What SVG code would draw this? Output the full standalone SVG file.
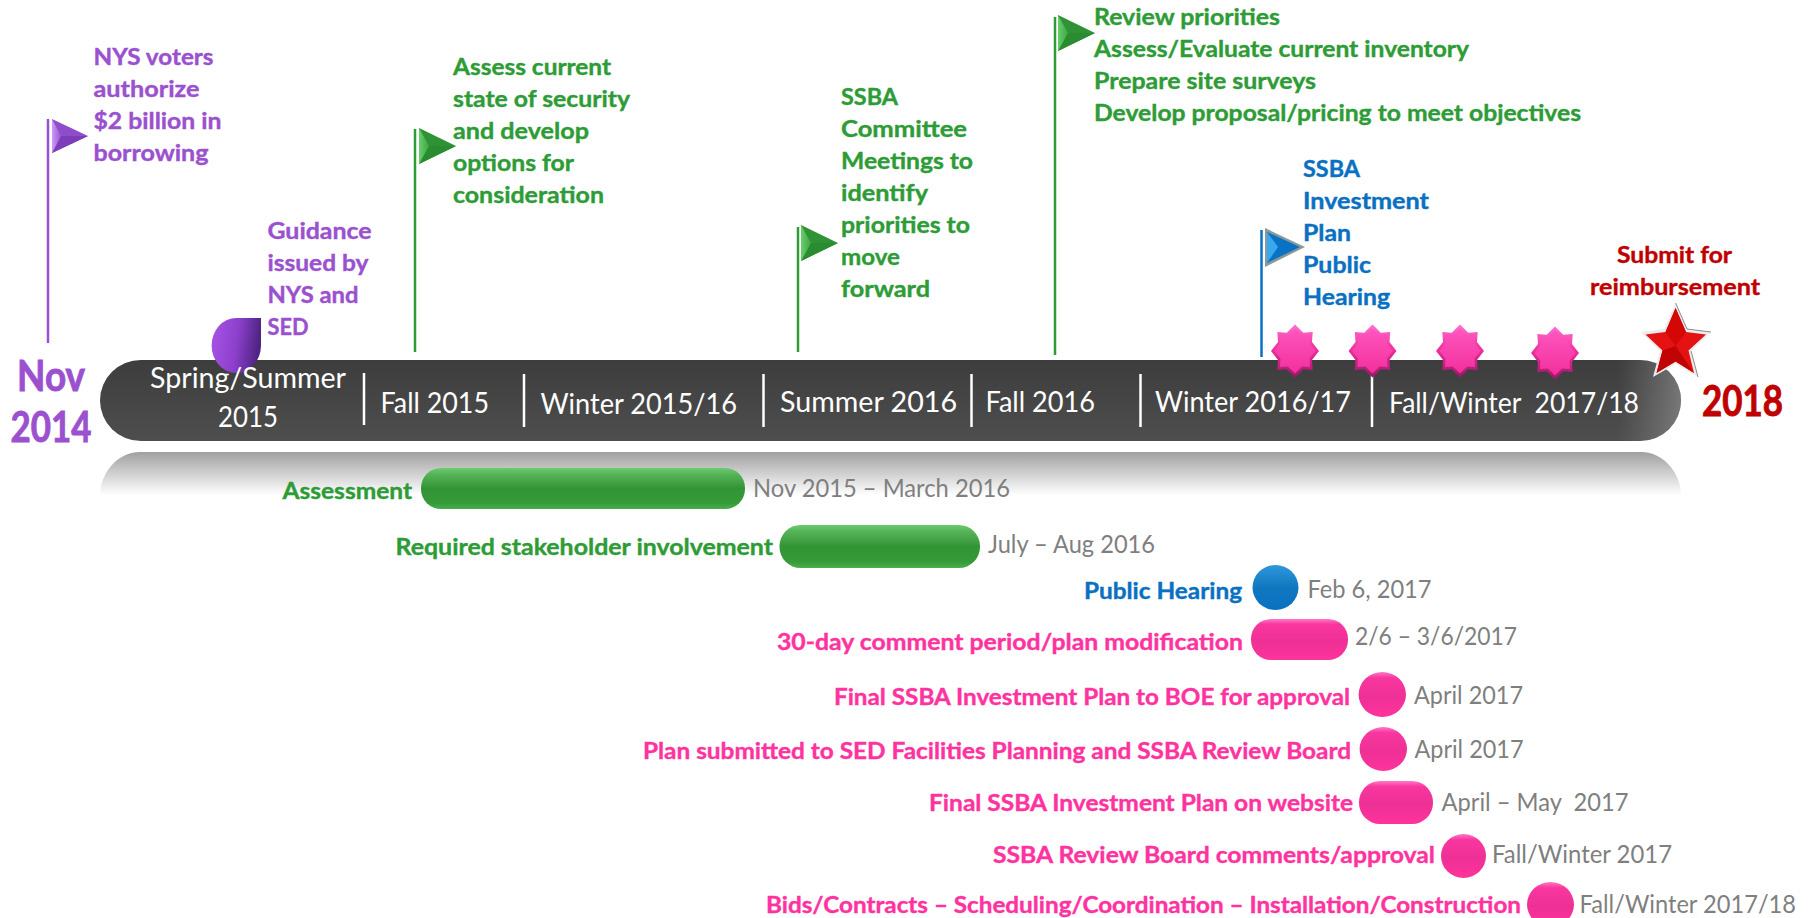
<svg xmlns="http://www.w3.org/2000/svg" width="1808" height="918" viewBox="0 0 1808 918">
<style>
text{font-family:Lato,"Open Sans","Liberation Sans",sans-serif}
.b{font-weight:700;font-size:23.500px;stroke-width:.4px}
.big{font-weight:700;font-size:42px;stroke-width:.9px}
.p{fill:#9b51cf;stroke:#9b51cf}.g{fill:#2e9c36;stroke:#2e9c36}.u{fill:#0a70c2;stroke:#0a70c2}.k{fill:#ff339f;stroke:#ff339f}.r{fill:#c00000;stroke:#c00000}
.per{fill:#fff;font-size:29px}
.d{fill:#7f7f7f;font-size:25px}
.sep{stroke:#fff;stroke-width:2.5}
.pole{stroke-width:2.5;fill:none}
</style>
<defs>
<linearGradient id="bar" x1="0" y1="0" x2="0" y2="1"><stop offset="0" stop-color="#3d3d3d"/><stop offset="1" stop-color="#4e4e4e"/></linearGradient>
<linearGradient id="edge" x1="0" y1="0" x2="1" y2="0"><stop offset="0.96" stop-color="#888" stop-opacity="0"/><stop offset="1" stop-color="#999" stop-opacity="0.6"/></linearGradient>
<linearGradient id="refl" x1="0" y1="0" x2="0" y2="1"><stop offset="0" stop-color="#a0a0a0"/><stop offset="1" stop-color="#fff"/></linearGradient>
<linearGradient id="gbar" x1="0" y1="0" x2="0" y2="1"><stop offset="0" stop-color="#6ccb6e"/><stop offset="0.15" stop-color="#55b458"/><stop offset="0.5" stop-color="#339435"/><stop offset="0.85" stop-color="#359a38"/><stop offset="1" stop-color="#4aae4e"/></linearGradient>
<linearGradient id="kbar" x1="0" y1="0" x2="0" y2="1"><stop offset="0" stop-color="#ff78c4"/><stop offset="0.13" stop-color="#f9369f"/><stop offset="0.55" stop-color="#ee3096"/><stop offset="1" stop-color="#ff339c"/></linearGradient>
<linearGradient id="ubar" x1="0" y1="0" x2="0" y2="1"><stop offset="0" stop-color="#2f97dc"/><stop offset="0.5" stop-color="#1078bf"/><stop offset="1" stop-color="#0a70c2"/></linearGradient>
<linearGradient id="tear" x1="0" y1="0" x2="1" y2="0.15"><stop offset="0" stop-color="#a854e6"/><stop offset="0.55" stop-color="#8d40cc"/><stop offset="1" stop-color="#4f2484"/></linearGradient>
<linearGradient id="star" x1="0" y1="0" x2="0" y2="1"><stop offset="0" stop-color="#ff70d0"/><stop offset="0.5" stop-color="#ee2c9c"/><stop offset="1" stop-color="#9c1668"/></linearGradient>
<linearGradient id="star2" x1="0" y1="0" x2="0" y2="1"><stop offset="0" stop-color="#ff55bd"/><stop offset="1" stop-color="#f2309c"/></linearGradient>
<linearGradient id="gf" x1="0" y1="0" x2="1" y2="0"><stop offset="0" stop-color="#67cf6a"/><stop offset="1" stop-color="#3ea544"/></linearGradient>
<linearGradient id="pf" x1="0" y1="0" x2="1" y2="0"><stop offset="0" stop-color="#cf9af5"/><stop offset="1" stop-color="#9a55d6"/></linearGradient>
<g id="burst">
<polygon fill="url(#star)" points="0,-26.500 8.300,-18.300 17.700,-19 17,-9 24,0 17,9 17.700,19 8.300,18.300 0,26.500 -8.300,18.300 -17.700,19 -17,9 -24,0 -17,-9 -17.700,-19 -8.300,-18.300"/>
<polygon fill="url(#star2)" points="0,-22.500 7,-15.500 15,-16 14.500,-7.500 20.500,0 14.500,7.500 15,16 7,15.500 0,22.500 -7,15.500 -15,16 -14.500,7.500 -20.500,0 -14.500,-7.500 -15,-16 -7,-15.500"/>
</g>
<g id="gflag">
<polygon points="0,0 37,18 0,36" fill="#2f9234"/>
<polygon points="0,36 37,18 10,18" fill="#2b8b31"/>
<polygon points="0,0 10,18 0,36" fill="url(#gf)"/>
</g>
</defs>

<g id="timeline-bar">
<path d="M140 452H1641C1665 452 1681 475 1681 495H100C100 475 116 452 140 452Z" fill="url(#refl)"/>
<rect x="100" y="360" width="1581" height="81" rx="41" ry="40.500" fill="url(#bar)"/>
<rect x="100" y="360" width="1581" height="81" rx="41" ry="40.500" fill="url(#edge)"/>
<line class="sep" x1="364" y1="373" x2="364" y2="425"/>
<line class="sep" x1="524" y1="374" x2="524" y2="427"/>
<line class="sep" x1="763.500" y1="374" x2="763.500" y2="427"/>
<line class="sep" x1="971.500" y1="374" x2="971.500" y2="427"/>
<line class="sep" x1="1140.500" y1="374" x2="1140.500" y2="427"/>
<line class="sep" x1="1372" y1="374" x2="1372" y2="427"/>
</g>

<g id="connectors">
<line class="pole" stroke="#9b51cf" x1="48" y1="119" x2="48" y2="343"/>
<line class="pole" stroke="#2e9c36" x1="415" y1="129" x2="415" y2="352"/>
<line class="pole" stroke="#2e9c36" x1="798" y1="227" x2="798" y2="352"/>
<line class="pole" stroke="#2e9c36" x1="1055" y1="17" x2="1055" y2="355"/>
<line class="pole" stroke="#0a70c2" x1="1261.500" y1="230" x2="1261.500" y2="357"/>
</g>

<g id="nov-2014">
<text class="big p" x="51" y="391" text-anchor="middle" textLength="68" lengthAdjust="spacingAndGlyphs">Nov</text>
<text class="big p" x="51" y="442" text-anchor="middle" textLength="81" lengthAdjust="spacingAndGlyphs">2014</text>
</g>

<g id="flag-voters">
<polygon points="52,119 88,136 52,153" fill="#8f4ccb"/>
<polygon points="52,153 88,136 61,136" fill="#7d3db8"/>
<polygon points="52,119 61,136 52,153" fill="url(#pf)"/>
<text class="b p" x="93.500" y="65" textLength="120" lengthAdjust="spacingAndGlyphs">NYS voters</text>
<text class="b p" x="93.500" y="97" textLength="106" lengthAdjust="spacingAndGlyphs">authorize</text>
<text class="b p" x="93.500" y="129" textLength="128" lengthAdjust="spacingAndGlyphs">$2 billion in</text>
<text class="b p" x="93.500" y="161" textLength="115" lengthAdjust="spacingAndGlyphs">borrowing</text>
</g>

<g id="guidance">
<path d="M261 318V345.500A24.700 27.500 0 1 1 236.300 318Z" fill="url(#tear)"/>
<text class="b p" x="267.500" y="239" textLength="104" lengthAdjust="spacingAndGlyphs">Guidance</text>
<text class="b p" x="267.500" y="271" textLength="101" lengthAdjust="spacingAndGlyphs">issued by</text>
<text class="b p" x="267.500" y="303" textLength="91" lengthAdjust="spacingAndGlyphs">NYS and</text>
<text class="b p" x="267.500" y="335" textLength="41" lengthAdjust="spacingAndGlyphs">SED</text>
</g>

<g id="flag-assess">
<use href="#gflag" x="419" y="128"/>
<text class="b g" x="453" y="75" textLength="158" lengthAdjust="spacingAndGlyphs">Assess current</text>
<text class="b g" x="453" y="107" textLength="177" lengthAdjust="spacingAndGlyphs">state of security</text>
<text class="b g" x="453" y="139" textLength="136" lengthAdjust="spacingAndGlyphs">and develop</text>
<text class="b g" x="453" y="171" textLength="121" lengthAdjust="spacingAndGlyphs">options for</text>
<text class="b g" x="453" y="203" textLength="151" lengthAdjust="spacingAndGlyphs">consideration</text>
</g>

<g id="flag-committee">
<use href="#gflag" x="801" y="225"/>
<text class="b g" x="841" y="105" textLength="57" lengthAdjust="spacingAndGlyphs">SSBA</text>
<text class="b g" x="841" y="137" textLength="126" lengthAdjust="spacingAndGlyphs">Committee</text>
<text class="b g" x="841" y="169" textLength="132" lengthAdjust="spacingAndGlyphs">Meetings to</text>
<text class="b g" x="841" y="201" textLength="87" lengthAdjust="spacingAndGlyphs">identify</text>
<text class="b g" x="841" y="233" textLength="129" lengthAdjust="spacingAndGlyphs">priorities to</text>
<text class="b g" x="841" y="265" textLength="59" lengthAdjust="spacingAndGlyphs">move</text>
<text class="b g" x="841" y="297" textLength="89" lengthAdjust="spacingAndGlyphs">forward</text>
</g>

<g id="flag-review">
<use href="#gflag" x="1058" y="15"/>
<text class="b g" x="1094" y="25" textLength="186" lengthAdjust="spacingAndGlyphs">Review priorities</text>
<text class="b g" x="1094" y="57" textLength="375" lengthAdjust="spacingAndGlyphs">Assess/Evaluate current inventory</text>
<text class="b g" x="1094" y="89" textLength="222" lengthAdjust="spacingAndGlyphs">Prepare site surveys</text>
<text class="b g" x="1094" y="121" textLength="487" lengthAdjust="spacingAndGlyphs">Develop proposal/pricing to meet objectives</text>
</g>

<g id="flag-hearing">
<polygon points="1265,228 1305,247 1265,267" fill="#8a9a9a"/>
<polygon points="1267,232 1300,247 1267,263" fill="#0a72c4"/>
<polygon points="1267,232 1278,247 1267,263" fill="#3aa8ee"/>
<text class="b u" x="1303" y="177" textLength="57" lengthAdjust="spacingAndGlyphs">SSBA</text>
<text class="b u" x="1303" y="209" textLength="126" lengthAdjust="spacingAndGlyphs">Investment</text>
<text class="b u" x="1303" y="241" textLength="48" lengthAdjust="spacingAndGlyphs">Plan</text>
<text class="b u" x="1303" y="273" textLength="68" lengthAdjust="spacingAndGlyphs">Public</text>
<text class="b u" x="1303" y="305" textLength="87" lengthAdjust="spacingAndGlyphs">Hearing</text>
</g>

<g id="period-labels">
<text class="per" x="150" y="388" textLength="196" lengthAdjust="spacingAndGlyphs">Spring/Summer</text>
<text class="per" x="218" y="427" textLength="60" lengthAdjust="spacingAndGlyphs">2015</text>
<text class="per" x="380.500" y="413" textLength="108.500" lengthAdjust="spacingAndGlyphs">Fall 2015</text>
<text class="per" x="540.500" y="414" textLength="196.500" lengthAdjust="spacingAndGlyphs">Winter 2015/16</text>
<text class="per" x="780" y="412" textLength="177" lengthAdjust="spacingAndGlyphs">Summer 2016</text>
<text class="per" x="985.500" y="412" textLength="109.500" lengthAdjust="spacingAndGlyphs">Fall 2016</text>
<text class="per" x="1155" y="412" textLength="196" lengthAdjust="spacingAndGlyphs">Winter 2016/17</text>
<text class="per" x="1389" y="413" textLength="250" lengthAdjust="spacingAndGlyphs" xml:space="preserve">Fall/Winter  2017/18</text>
</g>

<g id="milestone-1"><use href="#burst" x="1295" y="351"/></g>
<g id="milestone-2"><use href="#burst" x="1372.500" y="351"/></g>
<g id="milestone-3"><use href="#burst" x="1460" y="351"/></g>
<g id="milestone-4"><use href="#burst" x="1555" y="353"/></g>

<g id="submit">
<polygon points="1675.600,303 1687,329 1711,332 1691,351 1698,377 1675.600,364 1653,377 1660,351 1641,332 1664,329" fill="#ececec"/>
<polyline points="1675.600,303 1687,329 1711,332" fill="none" stroke="#8c8c8c" stroke-width="1"/>
<polyline points="1691,351 1698,377" fill="none" stroke="#8c8c8c" stroke-width="1"/>
<polygon points="1675.600,308 1686,332 1706,334.500 1688.500,350.500 1694,373 1675.600,361.500 1656.500,373 1662.500,350.500 1645.500,334.500 1665.500,332" fill="#e41212"/>
<polygon points="1675.600,308 1686,332 1675.600,346 1665.500,332" fill="#d40606"/>
<polygon points="1675.600,346 1694,373 1675.600,361.500 1656.500,373 1662.500,350.500" fill="#c00404"/>
<text class="b r" x="1617" y="263" textLength="115" lengthAdjust="spacingAndGlyphs">Submit for</text>
<text class="b r" x="1590" y="295" textLength="170" lengthAdjust="spacingAndGlyphs">reimbursement</text>
</g>

<g id="year-2018"><text class="big r" x="1702" y="416" textLength="81" lengthAdjust="spacingAndGlyphs">2018</text></g>

<g id="assessment">
<text class="b g" x="282.500" y="499" textLength="129.500" lengthAdjust="spacingAndGlyphs">Assessment</text>
<rect x="421" y="468" width="324" height="41" rx="20" fill="url(#gbar)"/>
<text class="d" x="753" y="497" textLength="257" lengthAdjust="spacingAndGlyphs">Nov 2015 – March 2016</text>
</g>
<g id="stakeholder">
<text class="b g" x="395.500" y="555" textLength="377.500" lengthAdjust="spacingAndGlyphs">Required stakeholder involvement</text>
<rect x="779.500" y="525" width="200.500" height="43" rx="21" fill="url(#gbar)"/>
<text class="d" x="988" y="553" textLength="167" lengthAdjust="spacingAndGlyphs">July – Aug 2016</text>
</g>
<g id="public-hearing">
<text class="b u" x="1084" y="599" textLength="158" lengthAdjust="spacingAndGlyphs">Public Hearing</text>
<ellipse cx="1275.500" cy="587.500" rx="23" ry="22.500" fill="url(#ubar)"/>
<text class="d" x="1307.500" y="598" textLength="124" lengthAdjust="spacingAndGlyphs">Feb 6, 2017</text>
</g>
<g id="comment-period">
<text class="b k" x="777" y="650" textLength="466" lengthAdjust="spacingAndGlyphs">30-day comment period/plan modification</text>
<rect x="1251" y="619" width="97" height="41" rx="20" fill="url(#kbar)"/>
<text class="d" x="1355" y="645" textLength="162" lengthAdjust="spacingAndGlyphs">2/6 – 3/6/2017</text>
</g>
<g id="final-plan-boe">
<text class="b k" x="834" y="705" textLength="516" lengthAdjust="spacingAndGlyphs">Final SSBA Investment Plan to BOE for approval</text>
<ellipse cx="1382.300" cy="694.500" rx="23.700" ry="22.500" fill="url(#kbar)"/>
<text class="d" x="1414" y="704" textLength="109" lengthAdjust="spacingAndGlyphs">April 2017</text>
</g>
<g id="plan-submitted">
<text class="b k" x="643" y="759" textLength="708" lengthAdjust="spacingAndGlyphs">Plan submitted to SED Facilities Planning and SSBA Review Board</text>
<ellipse cx="1383.300" cy="749" rx="23.700" ry="22" fill="url(#kbar)"/>
<text class="d" x="1414.500" y="758" textLength="109" lengthAdjust="spacingAndGlyphs">April 2017</text>
</g>
<g id="plan-website">
<text class="b k" x="929" y="811" textLength="424" lengthAdjust="spacingAndGlyphs">Final SSBA Investment Plan on website</text>
<rect x="1359" y="781" width="74" height="43" rx="21" fill="url(#kbar)"/>
<text class="d" x="1441.500" y="811" textLength="187" lengthAdjust="spacingAndGlyphs" xml:space="preserve">April – May  2017</text>
</g>
<g id="review-board">
<text class="b k" x="993" y="863" textLength="442" lengthAdjust="spacingAndGlyphs">SSBA Review Board comments/approval</text>
<ellipse cx="1463.500" cy="856" rx="22.500" ry="22" fill="url(#kbar)"/>
<text class="d" x="1492" y="863" textLength="180" lengthAdjust="spacingAndGlyphs">Fall/Winter 2017</text>
</g>
<g id="bids">
<text class="b k" x="766" y="913" textLength="755" lengthAdjust="spacingAndGlyphs">Bids/Contracts – Scheduling/Coordination – Installation/Construction</text>
<ellipse cx="1550.500" cy="904.500" rx="23.500" ry="22.500" fill="url(#kbar)"/>
<text class="d" x="1579.600" y="913" textLength="216.400" lengthAdjust="spacingAndGlyphs">Fall/Winter 2017/18</text>
</g>
</svg>
